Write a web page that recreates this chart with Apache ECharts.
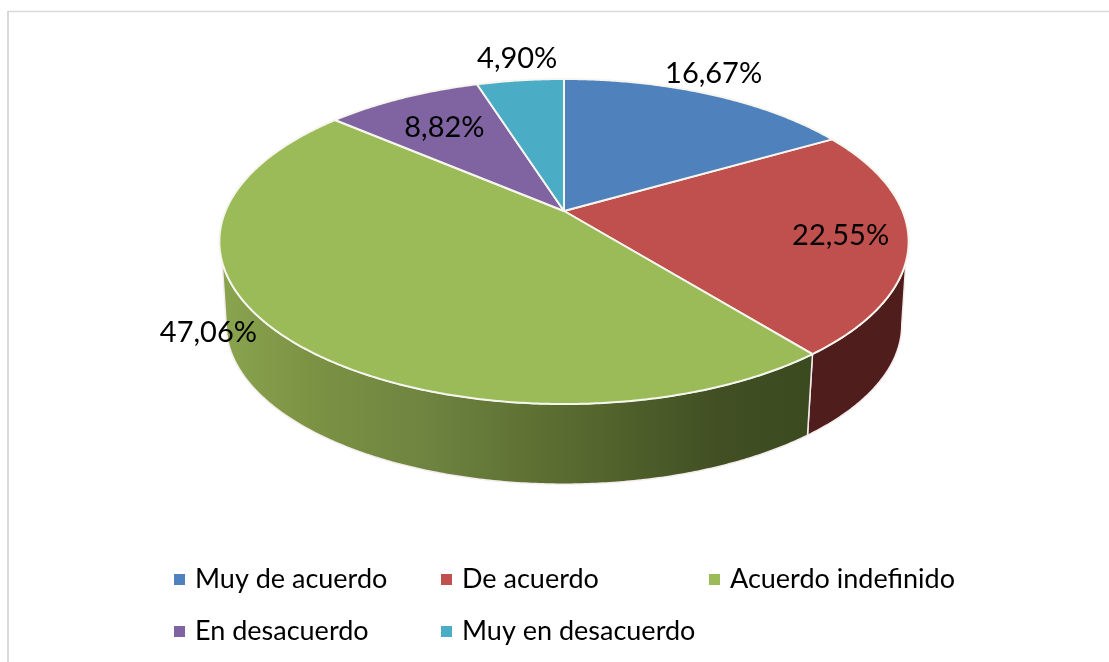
<!DOCTYPE html>
<html><head><meta charset="utf-8">
<style>html,body{margin:0;padding:0;background:#fff}#c{width:1109px;height:662px}</style>
<script src="https://cdn.jsdelivr.net/npm/echarts@6/dist/echarts.min.js"></script>
</head><body><div id="c"></div>
<script>
const categories = ['Muy de acuerdo','De acuerdo','Acuerdo indefinido','En desacuerdo','Muy en desacuerdo'];
const shares = [16.67,22.55,47.06,8.82,4.90];

const colors = ['#4f81bd','#c0504d','#9bbb59','#8064a2','#4bacc6'];
const FONT = 'Lato, "Open Sans", sans-serif';
const sideFills = [
  null,
  '#4f1d1c',
  new echarts.graphic.LinearGradient(220,0,806,0,[
    {offset:0,color:'#8aa44f'},{offset:.15,color:'#7c9344'},{offset:.35,color:'#6e8440'},
    {offset:.6,color:'#586a2f'},{offset:.85,color:'#414f23'},{offset:1,color:'#3c4a20'}],true),
  null,null
];
const labelOffsets = [[4,-21],[-68,-5],[-76,-4],[42,30],[-3,-22]];
const legendSlots = [[174,0],[441,0],[709,0],[174,1],[441,1]];

// projected-circle model of the tilted pie
const P = {cx:564, cy:211, a:338.5, b:156.8, k:0.1877};
const LOW = {cy:295, s:0.98};
const RAD = Math.PI/180;
function upperRim(t){
  const u=Math.sin(t), v=Math.cos(t), d=1+P.k*v;
  return [P.cx+P.a*u/d, P.cy-P.b*v/d];
}
function lowerRim(t){
  const p=upperRim(t);
  return [P.cx+(p[0]-P.cx)*LOW.s, LOW.cy+(p[1]-P.cy)*LOW.s];
}
function arc(fn,t0,t1){
  const n=Math.max(2,Math.ceil(Math.abs(t1-t0)/(0.5*RAD))), out=[];
  for(let i=0;i<=n;i++) out.push(fn(t0+(t1-t0)*i/n));
  return out;
}
const total = shares.reduce((s,x)=>s+x,0);
let running = 0;
const starts = shares.map(v=>{const s=running; running+=v; return s;});

function renderer(idx){
  return function(params, api){
    const value=api.value(0), start=api.value(1);
    const t0=start/total*2*Math.PI, t1=(start+value)/total*2*Math.PI;
    const children=[];
    if(sideFills[idx]){
      const uA=Math.max(t0,107.85*RAD), uB=Math.min(t1,252.15*RAD);
      const lA=Math.max(t0,100.8*RAD), lB=Math.min(t1,259.2*RAD);
      if(uB>uA){
        children.push({type:'polygon',z2:1,
          shape:{points:arc(upperRim,uA,uB).concat(arc(lowerRim,lB,lA))},
          style:{fill:sideFills[idx],stroke:'#f4ecec',lineWidth:1.5,lineJoin:'round'}});
      }
    }
    children.push({type:'polygon',z2:2,
      shape:{points:[[P.cx,P.cy]].concat(arc(upperRim,t0,t1))},
      style:{fill:colors[idx],stroke:'#f6f6ee',lineWidth:2,lineJoin:'round'}});
    const mid=upperRim((t0+t1)/2), off=labelOffsets[idx];
    children.push({type:'text',z2:5,x:mid[0]+off[0],y:mid[1]+off[1],
      style:{text:value.toFixed(2).replace('.',',')+'%',align:'center',verticalAlign:'middle',
        fill:'#000',font:'29px '+FONT}});
    return {type:'group',children};
  };
}

const series = categories.map((name,i)=>({
  type:'custom',name,coordinateSystem:'none',silent:true,animation:false,
  z:i===2||i===1?2:3,
  itemStyle:{color:colors[i]},
  renderItem:renderer(i),
  data:[[shares[i],starts[i]]]
}));
const legends = categories.map((name,i)=>({
  data:[name],orient:'horizontal',
  left:legendSlots[i][0],top:566+legendSlots[i][1]*52,
  padding:0,itemWidth:11,itemHeight:11,icon:'rect',selectedMode:false,
  textStyle:{fontFamily:FONT,fontSize:27,color:'#000',padding:[0,0,0,5]}
}));
const chart=echarts.init(document.getElementById('c'),null,{renderer:'canvas'});
chart.setOption({
  animation:false,backgroundColor:'#fff',
  legend:legends,series,
  graphic:[
    {type:'line',silent:true,shape:{x1:8,y1:11.5,x2:1109,y2:11.5},style:{stroke:'#d9d9d9',lineWidth:1.5}},
    {type:'line',silent:true,shape:{x1:8,y1:11,x2:8,y2:662},style:{stroke:'#d9d9d9',lineWidth:2}}
  ]
});
</script></body></html>
